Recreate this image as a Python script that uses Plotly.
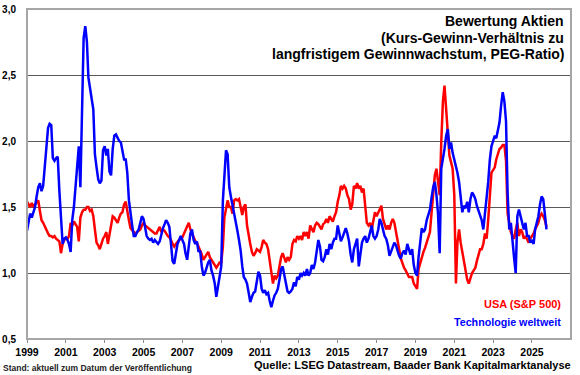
import pandas as pd
import plotly.graph_objects as go

# ---------------- data (monthly, starting Jan 1999) ----------------
start_month = "1999-01-01"

usa_sp500 = [
    1.54, 1.52, 1.50, 1.53, 1.50, 1.52, 1.54, 1.55, 1.47, 1.40, 1.38, 1.35,  # 1999
    1.33, 1.30, 1.28, 1.28, 1.27, 1.28, 1.26, 1.25, 1.24, 1.15, 1.22, 1.25,  # 2000
    1.26, 1.26, 1.28, 1.38, 1.36, 1.39, 1.37, 1.35, 1.24, 1.42, 1.46, 1.48,  # 2001
    1.48, 1.50, 1.50, 1.47, 1.48, 1.43, 1.33, 1.23, 1.21, 1.18, 1.22, 1.26,  # 2002
    1.28, 1.31, 1.22, 1.30, 1.38, 1.43, 1.42, 1.40, 1.38, 1.42, 1.45, 1.46,  # 2003
    1.52, 1.54, 1.46, 1.40, 1.34, 1.32, 1.31, 1.30, 1.31, 1.32, 1.33, 1.36,  # 2004
    1.38, 1.36, 1.35, 1.34, 1.33, 1.32, 1.31, 1.30, 1.30, 1.32, 1.35, 1.31,  # 2005
    1.33, 1.32, 1.30, 1.28, 1.27, 1.25, 1.22, 1.20, 1.22, 1.24, 1.25, 1.26,  # 2006
    1.27, 1.30, 1.33, 1.36, 1.38, 1.33, 1.30, 1.26, 1.24, 1.23, 1.20, 1.18,  # 2007
    1.14, 1.10, 1.12, 1.15, 1.16, 1.12, 1.10, 1.08, 1.06, 1.04, 1.06, 1.08,  # 2008
    1.08, 1.20, 1.42, 1.48, 1.55, 1.50, 1.50, 1.45, 1.55, 1.56, 1.55, 1.56,  # 2009
    1.50, 1.44, 1.50, 1.52, 1.36, 1.28, 1.22, 1.16, 1.13, 1.15, 1.18, 1.17,  # 2010
    1.16, 1.20, 1.25, 1.23, 1.22, 1.18, 1.10, 1.00, 0.92, 0.98, 0.96, 0.98,  # 2011
    1.06, 1.12, 1.15, 1.11, 1.08, 1.12, 1.10, 1.12, 1.22, 1.25, 1.24, 1.28,  # 2012
    1.26, 1.28, 1.25, 1.31, 1.28, 1.31, 1.26, 1.36, 1.33, 1.31, 1.36, 1.38,  # 2013
    1.37, 1.35, 1.33, 1.37, 1.38, 1.41, 1.38, 1.43, 1.41, 1.39, 1.43, 1.46,  # 2014
    1.54, 1.59, 1.66, 1.64, 1.66, 1.64, 1.59, 1.56, 1.48, 1.52, 1.66, 1.64,  # 2015
    1.68, 1.64, 1.66, 1.61, 1.64, 1.48, 1.38, 1.36, 1.38, 1.33, 1.41, 1.46,  # 2016
    1.43, 1.46, 1.48, 1.51, 1.41, 1.36, 1.33, 1.36, 1.33, 1.38, 1.41, 1.38,  # 2017
    1.32, 1.26, 1.18, 1.11, 1.07, 1.04, 1.02, 0.99, 0.97, 0.97, 0.97, 0.92,  # 2018
    0.90, 0.88, 1.03, 1.08, 1.11, 1.16, 1.19, 1.23, 1.26, 1.31, 1.46, 1.61,  # 2019
    1.74, 1.79, 1.69, 1.59, 1.99, 2.30, 2.42, 2.24, 2.04, 1.89, 1.84, 1.79,  # 2020
    1.59, 0.92, 1.23, 1.33, 1.23, 1.16, 1.08, 1.00, 0.95, 0.92, 0.97, 1.00,  # 2021
    1.02, 1.04, 1.09, 1.14, 1.18, 1.18, 1.22, 1.30, 1.26, 1.40, 1.62, 1.76,  # 2022
    1.78, 1.80, 1.86, 1.90, 1.94, 1.95, 1.97, 1.97, 1.85, 1.45, 1.36, 1.31,  # 2023
    1.28, 1.26, 1.33, 1.38, 1.28, 1.33, 1.31, 1.26, 1.28, 1.26, 1.23, 1.26,  # 2024
    1.28, 1.30, 1.33, 1.36, 1.38, 1.43, 1.45, 1.43, 1.40, 1.35,              # 2025
]

tech_world = [
    1.32, 1.40, 1.45, 1.42, 1.47, 1.50, 1.58, 1.65, 1.68, 1.62, 1.66, 1.80,  # 1999
    2.00, 2.10, 2.13, 2.12, 1.87, 1.85, 1.87, 1.88, 1.62, 1.38, 1.22, 1.26,  # 2000
    1.27, 1.25, 1.22, 1.16, 1.40, 1.50, 1.65, 1.80, 1.96, 1.65, 2.15, 2.78,  # 2001
    2.87, 2.75, 2.48, 2.38, 2.32, 2.24, 1.90, 1.80, 1.71, 1.68, 1.70, 1.93,  # 2002
    1.96, 1.89, 1.94, 1.77, 1.74, 1.94, 2.04, 2.05, 2.02, 2.00, 1.99, 1.91,  # 2003
    1.86, 1.86, 1.76, 1.55, 1.43, 1.36, 1.28, 1.28, 1.31, 1.33, 1.38, 1.43,  # 2004
    1.41, 1.33, 1.28, 1.26, 1.25, 1.26, 1.23, 1.25, 1.23, 1.22, 1.24, 1.30,  # 2005
    1.34, 1.37, 1.40, 1.38, 1.35, 1.22, 1.09, 1.07, 1.14, 1.22, 1.25, 1.28,  # 2006
    1.25, 1.22, 1.15, 1.10, 1.20, 1.30, 1.33, 1.25, 1.22, 1.24, 1.16, 1.17,  # 2007
    1.05, 0.98, 1.00, 1.04, 1.08, 1.10, 1.02, 0.98, 0.92, 0.82, 0.90, 1.00,  # 2008
    1.05, 1.55, 1.78, 1.93, 1.90, 1.65, 1.58, 1.52, 1.45, 1.38, 1.32, 1.25,  # 2009
    1.17, 1.05, 0.97, 0.95, 0.92, 0.85, 0.78, 0.82, 0.85, 0.86, 0.95, 1.01,  # 2010
    0.98, 0.88, 0.85, 0.87, 0.84, 0.85, 0.79, 0.74, 0.79, 0.83, 0.85, 0.88,  # 2011
    0.95, 1.03, 1.05, 0.98, 0.90, 0.86, 0.85, 0.86, 0.88, 0.93, 0.90, 0.97,  # 2012
    0.95, 1.00, 0.98, 1.00, 0.98, 1.03, 0.98, 1.00, 1.06, 1.03, 1.08, 1.15,  # 2013
    1.25, 1.20, 1.10, 1.09, 1.12, 1.18, 1.14, 1.22, 1.18, 1.23, 1.26, 1.26,  # 2014
    1.36, 1.30, 1.24, 1.27, 1.31, 1.34, 1.30, 1.24, 1.14, 1.08, 1.18, 1.23,  # 2015
    1.26, 1.05, 1.16, 1.23, 1.26, 1.28, 1.23, 1.26, 1.31, 1.36, 1.28, 1.26,  # 2016
    1.28, 1.33, 1.41, 1.38, 1.33, 1.28, 1.26, 1.21, 1.13, 1.16, 1.20, 1.23,  # 2017
    1.21, 1.17, 1.13, 1.11, 1.15, 1.17, 1.14, 1.22, 1.17, 1.14, 1.18, 1.06,  # 2018
    1.00, 0.98, 1.12, 1.22, 1.34, 1.31, 1.33, 1.40, 1.45, 1.48, 1.57, 1.65,  # 2019
    1.69, 1.59, 1.45, 1.15, 1.79, 1.86, 1.94, 2.04, 2.09, 1.94, 1.99, 1.91,  # 2020
    1.86, 1.81, 1.76, 1.69, 1.59, 1.46, 1.51, 1.49, 1.54, 1.46, 1.56, 1.61,  # 2021
    1.59, 1.56, 1.51, 1.47, 1.45, 1.40, 1.33, 1.44, 1.59, 1.69, 1.86, 1.96,  # 2022
    2.00, 2.04, 2.02, 2.07, 2.14, 2.27, 2.37, 2.30, 2.15, 1.60, 1.33, 1.38,  # 2023
    1.21, 1.11, 1.00, 1.43, 1.48, 1.43, 1.38, 1.33, 1.38, 1.28, 1.28, 1.23,  # 2024
    1.25, 1.22, 1.33, 1.38, 1.43, 1.52, 1.58, 1.56, 1.44, 1.33,              # 2025
]

x_tick_years = [1999, 2001, 2003, 2005, 2007, 2009, 2011, 2013, 2015, 2017, 2019, 2021, 2023, 2025]
y_tick_values = [0.5, 1.0, 1.5, 2.0, 2.5, 3.0]
y_tick_labels = ["0,5", "1,0", "1,5", "2,0", "2,5", "3,0"]

series_names = ["USA (S&P 500)", "Technologie weltweit"]
title_lines = ["Bewertung Aktien", "(Kurs-Gewinn-Verhältnis zu", "langfristigem Gewinnwachstum, PEG-Ratio)"]
source_text = "Quelle: LSEG Datastream, Baader Bank Kapitalmarktanalyse"
stand_text = "Stand: aktuell zum Datum der Veröffentlichung"

# ---------------- figure ----------------
dates = pd.date_range(start_month, periods=len(usa_sp500), freq="MS")
FONT = "Arial, Liberation Sans, sans-serif"
RED = "#ff0000"
BLUE = "#0000ff"

fig = go.Figure()
fig.add_trace(go.Scatter(x=dates, y=usa_sp500, mode="lines", name=series_names[0],
                         line=dict(color=RED, width=2.5)))
fig.add_trace(go.Scatter(x=dates, y=tech_world, mode="lines", name=series_names[1],
                         line=dict(color=BLUE, width=2.5)))

fig.update_layout(
    width=580, height=375,
    margin=dict(l=27, r=9, t=9, b=36, autoexpand=False),
    paper_bgcolor="white", plot_bgcolor="white",
    showlegend=False,
    font=dict(family=FONT, color="black"),
)

fig.update_xaxes(
    type="date", automargin=False,
    range=["1999-01-01", "2027-01-05"],
    tickvals=[f"{y}-01-01" for y in x_tick_years],
    ticktext=[f"<b>{y}</b>" for y in x_tick_years],
    ticks="outside", ticklen=3, tickcolor="#8c8c8c", tickwidth=1,
    tickfont=dict(size=10.5, family=FONT, color="black"),
    showgrid=False, zeroline=False, showline=False,
)
fig.update_yaxes(
    automargin=False,
    range=[0.5, 3.0],
    tickvals=y_tick_values,
    ticktext=[f"<b>{t}</b>" for t in y_tick_labels],
    ticks="outside", ticklen=8, tickcolor="rgba(0,0,0,0)",
    tickfont=dict(size=10, family=FONT, color="black"),
    showgrid=True, gridcolor="#5a5a5a", gridwidth=1,
    zeroline=False, showline=False,
)

# frame around plot area
fig.add_shape(type="rect", xref="paper", yref="paper", x0=0, y0=0, x1=1, y1=1,
              line=dict(color="#a6a6a6", width=2), layer="above")

# title lines (right aligned, top right)
title_y = [0.9636, 0.9136, 0.8636]
for txt, yy in zip(title_lines, title_y):
    fig.add_annotation(text=f"<b>{txt}</b>", xref="paper", yref="paper",
                       x=0.9908, y=yy, xanchor="right", yanchor="middle",
                       showarrow=False, font=dict(size=14, family=FONT, color="black"))

# legend texts
fig.add_annotation(text=f"<b>{series_names[0]}</b>", xref="paper", yref="paper",
                   x=0.9853, y=0.106, xanchor="right", yanchor="middle", showarrow=False,
                   font=dict(size=11, family=FONT, color=RED))
fig.add_annotation(text=f"<b>{series_names[1]}</b>", xref="paper", yref="paper",
                   x=0.9853, y=0.0515, xanchor="right", yanchor="middle", showarrow=False,
                   font=dict(size=10.7, family=FONT, color=BLUE))

# footer texts
fig.add_annotation(text=f"<b>{source_text}</b>", xref="paper", yref="paper",
                   x=1.004, y=-0.0797, xanchor="right", yanchor="middle", showarrow=False,
                   font=dict(size=11, family=FONT, color="black"))
fig.add_annotation(text=f"<b>{stand_text}</b>", xref="paper", yref="paper",
                   x=-0.0478, y=-0.087, xanchor="left", yanchor="middle", showarrow=False,
                   font=dict(size=8.5, family=FONT, color="#222222"))

fig.write_html("out.html", config={"displayModeBar": False},
               post_script="document.body.style.margin='0';document.body.style.padding='0';")
